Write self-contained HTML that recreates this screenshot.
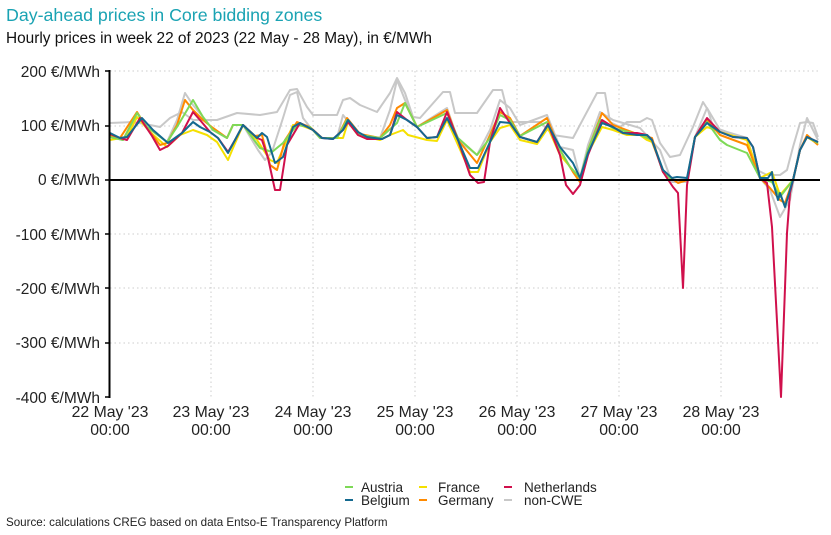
<!DOCTYPE html>
<html><head><meta charset="utf-8"><style>
body{margin:0;background:#fff;}
svg{display:block;font-family:"Liberation Sans",Arial,sans-serif;}
</style></head><body>
<svg width="831" height="535" viewBox="0 0 831 535">
<text x="6" y="21" font-size="17.8" fill="#1aa3b3">Day-ahead prices in Core bidding zones</text>
<text x="6" y="43" font-size="15.4" fill="#111">Hourly prices in week 22 of 2023 (22 May - 28 May), in €/MWh</text>
<g stroke="#ccc" stroke-dasharray="1.5,3" stroke-width="1">
<line x1="110" y1="71" x2="820" y2="71"/><line x1="110" y1="126" x2="820" y2="126"/>
<line x1="110" y1="234" x2="820" y2="234"/><line x1="110" y1="288" x2="820" y2="288"/>
<line x1="110" y1="343" x2="820" y2="343"/>
<line x1="211" y1="71" x2="211" y2="397"/><line x1="313" y1="71" x2="313" y2="397"/>
<line x1="415" y1="71" x2="415" y2="397"/><line x1="517" y1="71" x2="517" y2="397"/>
<line x1="619" y1="71" x2="619" y2="397"/><line x1="721" y1="71" x2="721" y2="397"/>
</g>
<g font-size="15.5" fill="#222" text-anchor="end">
<text x="100" y="77">200 €/MWh</text><text x="100" y="131">100 €/MWh</text>
<text x="100" y="185">0 €/MWh</text><text x="100" y="240">-100 €/MWh</text>
<text x="100" y="294">-200 €/MWh</text><text x="100" y="348">-300 €/MWh</text>
<text x="100" y="403">-400 €/MWh</text>
</g>
<g font-size="15.8" fill="#222" text-anchor="middle">
<text x="110" y="417">22 May '23</text><text x="110" y="435">00:00</text>
<text x="211" y="417">23 May '23</text><text x="211" y="435">00:00</text>
<text x="313" y="417">24 May '23</text><text x="313" y="435">00:00</text>
<text x="415" y="417">25 May '23</text><text x="415" y="435">00:00</text>
<text x="517" y="417">26 May '23</text><text x="517" y="435">00:00</text>
<text x="619" y="417">27 May '23</text><text x="619" y="435">00:00</text>
<text x="721" y="417">28 May '23</text><text x="721" y="435">00:00</text>
</g>
<g fill="none" stroke-width="2" stroke-linejoin="round">
<polyline stroke="#c8c8c8" points="110,123 133,122 150,125 160,127 170,118 182,112 193,120 217,120 237,113 260,115 277,112 290,90 297,89 307,107 313,115 337,115 343,100 350,98 360,105 377,112 390,93 397,78 405,93 413,117 420,118 443,92 450,92 455,113 477,113 493,90 502,90 510,122 540,122 553,135 573,138 597,93 605,93 610,122 620,127 627,122 640,122 647,118 652,120 660,143 670,157 680,155 693,127 703,102 708,110 713,127 727,132 747,138 757,170 767,175 780,175 787,170 793,147 800,123 807,122 813,123 818,137"/>
<polyline stroke="#c8c8c8" points="110,137 123,140 137,113 147,127 167,142 177,120 185,93 193,105 203,117 213,130 227,138 233,125 243,125 258,150 265,160 272,152 283,118 290,95 297,92 303,118 310,127 320,138 337,138 343,115 347,120 360,135 380,138 390,110 397,80 405,100 417,127 447,108 458,140 477,155 490,130 500,100 510,108 520,125 547,115 560,147 573,150 580,178 588,145 600,112 613,120 640,128 660,150 672,182 687,182 695,137 707,108 720,130 747,140 760,178 770,190 780,217 790,200 800,145 807,118 818,140"/>
<polyline stroke="#f5e000" points="110,140 127,137 137,117 150,132 167,147 180,135 193,130 207,135 217,142 228,160 233,148 243,125 257,140 270,160 277,163 293,125 300,125 313,130 322,138 343,138 348,122 358,135 380,140 390,135 403,130 408,135 427,140 437,141 447,120 458,145 470,172 478,172 490,142 500,128 510,125 520,140 537,144 548,128 560,155 573,170 580,178 588,153 602,127 613,130 627,135 640,135 647,140 652,142 663,170 672,180 687,180 695,137 707,127 720,132 747,140 760,178 772,172 780,195 793,180 800,150 807,137 818,144"/>
<polyline stroke="#ff8a00" points="110,135 120,138 137,112 147,128 160,145 167,143 177,125 185,100 193,110 203,120 213,128 227,138 233,125 243,125 255,136 262,135 270,165 277,170 285,140 297,122 310,127 322,138 337,138 347,118 360,134 380,138 390,125 397,108 405,103 417,127 447,110 458,140 477,163 490,135 500,112 510,118 520,136 547,118 560,150 573,172 580,182 588,150 602,113 613,125 640,135 652,138 663,172 678,183 687,180 695,137 707,120 720,135 747,145 760,178 770,188 780,200 785,203 793,180 800,150 807,135 818,145"/>
<polyline stroke="#7ed957" points="110,137 123,140 137,113 147,127 167,142 177,127 193,100 203,117 213,130 227,138 233,125 243,125 260,148 272,152 283,143 297,125 310,127 320,138 337,138 347,120 360,135 380,138 397,123 405,103 417,127 447,113 458,138 477,155 490,138 500,115 510,120 520,136 547,122 560,150 570,167 580,178 588,150 600,120 613,128 640,135 652,140 663,172 672,180 687,180 695,137 707,122 720,140 727,145 747,153 760,178 772,182 780,197 793,180 800,150 807,137 818,143"/>
<polyline stroke="#d0104c" points="110,134 120,138 127,140 140,118 152,136 160,150 168,146 182,133 193,112 200,120 210,132 218,138 228,152 235,140 243,125 257,138 262,140 268,158 275,190 280,190 287,145 300,123 313,130 322,138 333,139 343,130 348,122 358,135 367,139 382,139 390,135 397,112 407,120 417,127 427,138 437,137 447,112 458,140 470,175 478,183 484,182 490,142 500,108 510,123 520,137 537,142 548,124 560,155 566,185 573,194 580,185 588,155 602,120 613,127 623,133 637,133 647,135 652,140 663,172 673,187 678,193 683,288 687,185 695,137 707,118 720,132 733,137 747,138 753,147 760,178 767,183 772,227 781,397 787,233 790,193 800,150 807,137 818,142"/>
<polyline stroke="#14698f" points="110,133 120,138 127,137 142,118 153,130 168,143 182,133 193,122 200,127 210,132 218,138 228,153 235,140 243,125 257,138 262,133 267,137 275,163 283,157 293,127 300,123 313,130 322,138 333,139 343,130 348,120 358,132 367,137 382,139 390,135 397,115 407,120 417,127 427,138 437,137 447,118 458,140 470,168 478,168 490,142 500,122 510,123 520,137 537,142 548,125 560,147 573,163 580,178 588,153 602,123 613,127 623,133 637,135 647,135 652,140 663,170 672,178 677,177 687,178 695,137 707,123 720,132 733,137 747,138 753,147 760,178 768,178 772,172 773,182 778,200 780,193 785,207 793,180 800,150 807,137 818,142"/>
</g>
<line x1="109" y1="180" x2="820" y2="180" stroke="#000" stroke-width="2"/>
<line x1="109.5" y1="70" x2="109.5" y2="398" stroke="#000" stroke-width="2"/>
<g stroke="#000" stroke-width="1.5">
<line x1="105" y1="71" x2="109" y2="71"/><line x1="105" y1="126" x2="109" y2="126"/><line x1="105" y1="180" x2="109" y2="180"/><line x1="105" y1="234" x2="109" y2="234"/><line x1="105" y1="288" x2="109" y2="288"/><line x1="105" y1="343" x2="109" y2="343"/><line x1="105" y1="397" x2="109" y2="397"/>
</g>
<g stroke-width="2">
<line x1="345" y1="487" x2="353" y2="487" stroke="#7ed957"/>
<line x1="419" y1="487" x2="427" y2="487" stroke="#f5e000"/>
<line x1="504" y1="487" x2="512" y2="487" stroke="#d0104c"/>
<line x1="345" y1="500" x2="353" y2="500" stroke="#14698f"/>
<line x1="419" y1="500" x2="427" y2="500" stroke="#ff8a00"/>
<line x1="504" y1="500" x2="512" y2="500" stroke="#c8c8c8"/>
</g>
<g font-size="13.5" fill="#222">
<text x="361" y="492">Austria</text><text x="438" y="492">France</text><text x="524" y="492">Netherlands</text>
<text x="361" y="505">Belgium</text><text x="438" y="505">Germany</text><text x="524" y="505">non-CWE</text>
</g>
<text x="6" y="526" font-size="11.6" fill="#222">Source: calculations CREG based on data Entso-E Transparency Platform</text>
</svg>
</body></html>
